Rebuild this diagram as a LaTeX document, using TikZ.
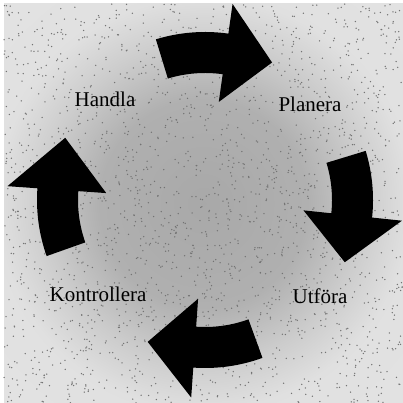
\documentclass[tikz,border=0pt]{standalone}
\usepackage{fontspec}
\setmainfont{Liberation Serif}
\pgfdeclareradialshading{bgstipple}{\pgfpoint{0bp}{0bp}}{%
  color(0bp)=(black!34); color(13bp)=(black!31); color(20bp)=(black!20);
  color(26bp)=(black!12); color(50bp)=(black!10)}
\begin{document}
\begin{tikzpicture}[x=1pt,y=1pt,
  cyclearrow/.style={fill=black},
  stipple/.style={fill=black!55},
  lbl/.style={font=\fontsize{21}{25}\selectfont, text=black, inner sep=0pt, anchor=base}]
\useasboundingbox (0,0) rectangle (403,403);
\fill[white] (0,0) rectangle (403,403);
\shade[shading=bgstipple] (4,0) rectangle (403,399);
\pgfmathsetseed{11}
\foreach \i in {1,...,2200}{
  \pgfmathsetmacro\px{4+rnd*399}
  \pgfmathsetmacro\py{rnd*399}
  \fill[stipple] (\px,\py) circle (0.75);
}
\begin{scope}[shift={(205,203)}]
\foreach \t/\b/\p in {107/82/64, 17/-6/-24, -70/-94/-112, 199.5/176/156}{
  \fill[cyclearrow] (\t:168) arc[start angle=\t, end angle=\b, radius=168]
    -- (\b:198) -- (\p:153) -- (\b:99) -- (\b:127)
    arc[start angle=\b, end angle=\t, radius=127] -- cycle;
}
\end{scope}
\node[lbl] (handla) at (105,296) {Handla};
\node[lbl] (planera) at (310,291) {Planera};
\node[lbl] (utfora) at (320,99) {Utföra};
\node[lbl] (kontrollera) at (98,101) {Kontrollera};
\end{tikzpicture}
\end{document}
